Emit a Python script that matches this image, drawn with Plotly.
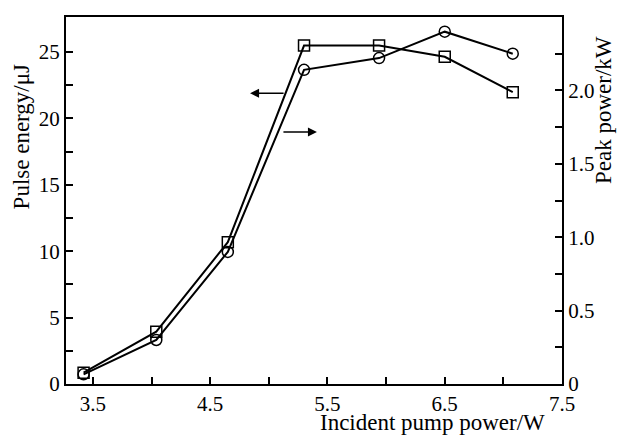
import plotly.graph_objects as go

pump_power = [3.42, 4.04, 4.65, 5.30, 5.94, 6.50, 7.08]
pulse_energy = [0.85, 3.94, 10.68, 25.49, 25.49, 24.64, 21.98]
peak_power = [0.066, 0.30, 0.90, 2.14, 2.22, 2.40, 2.25]

x_ticks = [3.5, 4.5, 5.5, 6.5, 7.5]
x_ticktext = ["3.5", "4.5", "5.5", "6.5", "7.5"]
y1_ticks = [0, 5, 10, 15, 20, 25]
y1_ticktext = ["0", "5", "10", "15", "20", "25"]
y2_ticks = [0, 0.5, 1.0, 1.5, 2.0, 2.5]
y2_ticktext = ["0", "0.5", "1.0", "1.5", "2.0", "2.5"]

FONT = "Liberation Serif, Times New Roman, serif"
TICKFONT = dict(family=FONT, size=21, color="black")
fig = go.Figure()
fig.add_trace(go.Scatter(
    x=pump_power, y=pulse_energy, mode="lines+markers",
    line=dict(color="black", width=2),
    marker=dict(symbol="square-open", size=11, color="black", line=dict(width=1.5)),
    yaxis="y", showlegend=False))
fig.add_trace(go.Scatter(
    x=pump_power, y=peak_power, mode="lines+markers",
    line=dict(color="black", width=2),
    marker=dict(symbol="circle-open", size=11, color="black", line=dict(width=1.5)),
    yaxis="y2", showlegend=False))

def axis_style():
    return dict(showline=True, linecolor="black", linewidth=2, ticks="inside",
                ticklen=7, tickwidth=1.5, tickcolor="black", showgrid=False,
                zeroline=False, automargin=False, tickfont=dict(TICKFONT))

fig.update_layout(
    width=620, height=428,
    margin=dict(l=58, r=66, t=9, b=52),
    paper_bgcolor="white", plot_bgcolor="white",
    font=dict(family=FONT, color="black", size=21),
    xaxis=dict(range=[3.27, 7.5], tickvals=x_ticks, ticktext=x_ticktext, mirror=True,
               minor=dict(tickvals=[4.0, 5.0, 6.0, 7.0], ticks="inside", ticklen=7,
                          tickwidth=1.5, tickcolor="black"),
               **axis_style()),
    yaxis=dict(range=[0, 27.64], tickvals=y1_ticks, ticktext=y1_ticktext,
               minor=dict(tickvals=[2.5, 7.5, 12.5, 17.5, 22.5], ticks="inside", ticklen=7,
                          tickwidth=1.5, tickcolor="black"),
               **axis_style()),
    yaxis2=dict(range=[0, 2.5], tickvals=y2_ticks, ticktext=y2_ticktext, overlaying="y",
                side="right",
                minor=dict(tickvals=[0.25, 0.75, 1.25, 1.75, 2.25], ticks="inside", ticklen=7,
                           tickwidth=1.5, tickcolor="black"),
                **axis_style()),
)

fig.add_annotation(text="Pulse energy/μJ", xref="paper", yref="paper", x=-0.0907, y=0.672,
                   textangle=-90, showarrow=False, xanchor="center", yanchor="middle",
                   font=dict(family=FONT, size=23, color="black"))
fig.add_annotation(text="Peak power/kW", xref="paper", yref="paper", x=1.085, y=0.747,
                   textangle=-90, showarrow=False, xanchor="center", yanchor="middle",
                   font=dict(family=FONT, size=23, color="black"))
fig.add_annotation(text="Incident pump power/W", xref="paper", yref="paper", x=0.738, y=-0.105,
                   showarrow=False, xanchor="center", yanchor="middle",
                   font=dict(family=FONT, size=23, color="black"))

fig.add_annotation(x=4.84, y=21.9, xref="x", yref="y", ax=35, ay=0, text="",
                   showarrow=True, arrowhead=2, arrowsize=1.2, arrowwidth=1.5, arrowcolor="black")
fig.add_annotation(x=5.41, y=18.97, xref="x", yref="y", ax=-35, ay=0, text="",
                   showarrow=True, arrowhead=2, arrowsize=1.2, arrowwidth=1.5, arrowcolor="black")

fig.write_html("out.html")
